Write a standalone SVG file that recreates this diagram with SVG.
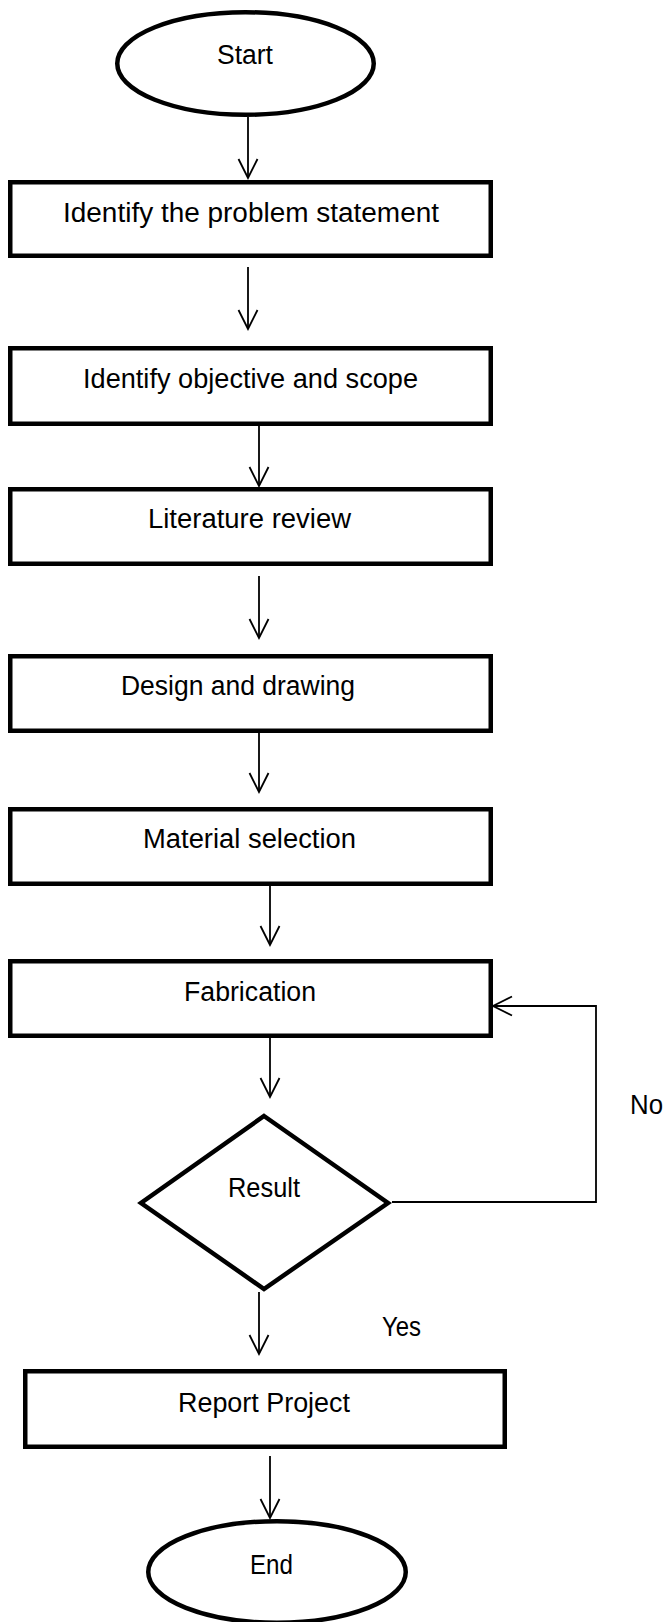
<svg xmlns="http://www.w3.org/2000/svg" width="667" height="1622" viewBox="0 0 667 1622">
  <defs>
    <marker id="arrow" markerUnits="userSpaceOnUse" viewBox="-22 -12 24 24" markerWidth="24" markerHeight="24" refX="0" refY="0" orient="auto" overflow="visible">
      <path d="M-19,-9.5 L0,0 L-19,9.5" fill="none" stroke="#000" stroke-width="1.8"/>
    </marker>
  </defs>
  <style>
    .shape { fill: #fff; stroke: #000; stroke-width: 4.5; }
    .conn { fill: none; stroke: #000; stroke-width: 1.8; }
    .arr { marker-end: url(#arrow); }
    text { font-family: "Liberation Sans", Arial, sans-serif; font-size: 27px; fill: #000; }
  </style>
  <rect width="667" height="1622" fill="#fff"/>

  <g id="connectors">
    <line class="conn arr" x1="248" y1="117" x2="248" y2="178"/>
    <line class="conn arr" x1="248" y1="267" x2="248" y2="329"/>
    <line class="conn arr" x1="259" y1="426" x2="259" y2="486"/>
    <line class="conn arr" x1="259" y1="576" x2="259" y2="638"/>
    <line class="conn arr" x1="259" y1="733" x2="259" y2="792"/>
    <line class="conn arr" x1="270" y1="886" x2="270" y2="945"/>
    <line class="conn arr" x1="270" y1="1038" x2="270" y2="1097"/>
    <line class="conn arr" x1="259" y1="1292" x2="259" y2="1354"/>
    <line class="conn arr" x1="270" y1="1456" x2="270" y2="1518"/>
    <polyline class="conn arr" points="392,1202 596,1202 596,1006 493,1006"/>
  </g>

  <g id="start">
    <ellipse class="shape" cx="245.5" cy="63.5" rx="128.25" ry="51.25"/>
    <text x="217" y="64" textLength="56" lengthAdjust="spacingAndGlyphs">Start</text>
  </g>
  <g id="problem">
    <rect class="shape" x="10.25" y="182.25" width="480.5" height="73.5"/>
    <text x="63" y="222" textLength="376" lengthAdjust="spacingAndGlyphs">Identify the problem statement</text>
  </g>
  <g id="objective">
    <rect class="shape" x="10.25" y="348.25" width="480.5" height="75.5"/>
    <text x="83" y="388" textLength="335" lengthAdjust="spacingAndGlyphs">Identify objective and scope</text>
  </g>
  <g id="literature">
    <rect class="shape" x="10.25" y="489.25" width="480.5" height="74.5"/>
    <text x="148" y="528" textLength="203" lengthAdjust="spacingAndGlyphs">Literature review</text>
  </g>
  <g id="design">
    <rect class="shape" x="10.25" y="656.25" width="480.5" height="74.5"/>
    <text x="121" y="695" textLength="234" lengthAdjust="spacingAndGlyphs">Design and drawing</text>
  </g>
  <g id="material">
    <rect class="shape" x="10.25" y="809.25" width="480.5" height="74.5"/>
    <text x="143" y="848" textLength="213" lengthAdjust="spacingAndGlyphs">Material selection</text>
  </g>
  <g id="fabrication">
    <rect class="shape" x="10.25" y="961.25" width="480.5" height="74.5"/>
    <text x="184" y="1001" textLength="132" lengthAdjust="spacingAndGlyphs">Fabrication</text>
  </g>
  <g id="result">
    <polygon class="shape" points="264,1116 388,1203 264,1289 141,1203"/>
    <text x="228" y="1197" textLength="72" lengthAdjust="spacingAndGlyphs">Result</text>
  </g>
  <g id="labels">
    <text x="630" y="1114" textLength="33" lengthAdjust="spacingAndGlyphs">No</text>
    <text x="382" y="1336" textLength="39" lengthAdjust="spacingAndGlyphs">Yes</text>
  </g>
  <g id="report">
    <rect class="shape" x="25.25" y="1371.25" width="479.5" height="75.5"/>
    <text x="178" y="1412" textLength="172" lengthAdjust="spacingAndGlyphs">Report Project</text>
  </g>
  <g id="end">
    <ellipse class="shape" cx="277" cy="1572" rx="128.75" ry="50.75"/>
    <text x="250" y="1574" textLength="43" lengthAdjust="spacingAndGlyphs">End</text>
  </g>
</svg>
